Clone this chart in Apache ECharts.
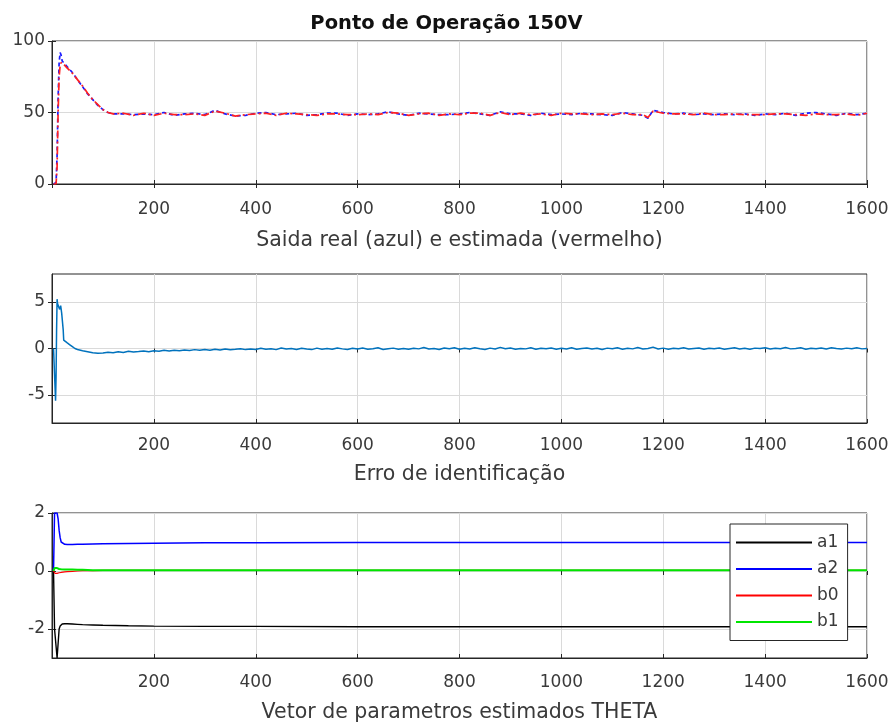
<!DOCTYPE html>
<html><head><meta charset="utf-8">
<script src="https://cdn.jsdelivr.net/npm/echarts@6/dist/echarts.min.js"></script>
<style>html,body{margin:0;padding:0;background:#fff}#c{width:893px;height:724px}</style>
</head><body><div id="c"></div>
<script>
// ---- Plot 1: real (blue) and estimated (red) output ----
const xOut = [3,5,8,10,12,14,16,18,20,25,30,40,50,60,70,80,90,100,110,120,
  140,160,180,200,220,240,260,280,300,320,340,360,380,400,420,440,460,480,500,520,540,560,580,600,620,640,660,680,700,720,740,760,780,800,820,840,860,880,900,920,940,960,980,1000,1020,1040,1060,1080,1100,1120,1140,1160,
  1170,1180,
  1200,1220,1240,1260,1280,1300,1320,1340,1360,1380,1400,1420,1440,1460,1480,1500,1520,1540,1560,1580,1600];
const realOut = [0,0,1,20,60,85,92,90,86,84,82,78,73,68,63,59,55,52,50,49,
  49,48.5,49,48.5,50,48,49,49.5,48.5,51.5,49,47.5,48,49.5,50,48.5,49,49.5,48,48.5,49.5,49.5,48,49,48.5,49,50.5,49,48,49.5,49,48.5,48.5,49,50,49,48,50.5,49,49,48,49.5,48.5,49,48.5,49.5,49,48.5,48,50,49,48,
  46,51.5,
  50,49,49.5,48.5,49,48.5,49,48.5,49,48,49,48.5,49.5,48,49.5,50,49,48,49.5,48.5,49.5];
const estOut = [0,0,0,12,50,75,83,85,85,83,81,77.5,73,68.5,63.5,59,55.5,52,50,49,
  49.5,48,49.5,48,49.5,48.5,48.5,49,48,51,49.5,47.5,48.5,49,49.5,48,49.5,49,48.5,48,49,49,48.5,48.5,49,48.5,50,49.5,48,49,49.5,48,49,48.5,49.5,49.5,48,50,48.5,49.5,48.5,49,48,49.5,49,49,48.5,49,48.5,49.5,48.5,48.5,
  46.5,51,
  49.5,49,49,48.5,49.5,48.5,48.5,49,48.5,48.5,48.5,49,49,48.5,48,49,48.5,48.5,49,48,49.5];

// ---- Plot 2: identification error ----
const xErrEarly = [3,5,7,8,9,10,11,13,15,17,19,21,22,23,25,30,35,40,45,50,60,70,80,90];
const errEarly = [0,0.2,-5.6,-3,2,5.3,4.8,5.0,4.2,4.6,3.8,4.0,2.0,0.9,0.8,0.6,0.4,0.2,0.0,-0.1,-0.25,-0.35,-0.45,-0.5];
const errStart = 100, errStep = 10; // sample spacing of the values below
const errLate = [
  -0.48,-0.40,-0.46,-0.35,-0.42,-0.30,-0.38,-0.33,-0.27,-0.35,
  -0.25,-0.30,-0.20,-0.28,-0.18,-0.24,-0.15,-0.22,-0.12,-0.20,
  -0.10,-0.18,-0.08,-0.15,-0.05,-0.14,-0.09,-0.02,-0.12,-0.06,
  -0.10,0.02,-0.08,-0.03,-0.12,0.05,-0.06,-0.01,-0.10,0.03,
  -0.05,-0.12,0.04,-0.07,0.00,-0.09,0.06,-0.04,-0.11,0.02,
  -0.06,0.05,-0.08,-0.02,0.08,-0.10,-0.03,0.04,-0.07,0.01,
  -0.09,0.03,-0.04,0.10,-0.06,-0.01,-0.11,0.05,-0.03,0.07,
  -0.08,0.02,-0.05,0.09,-0.02,-0.10,0.04,-0.06,0.12,-0.03,
  0.05,-0.08,0.01,-0.04,0.08,-0.09,0.03,-0.02,0.06,-0.07,
  0.02,-0.05,0.09,-0.08,0.00,0.05,-0.06,0.03,-0.10,0.04,
  -0.03,0.07,-0.07,0.02,-0.04,0.10,-0.05,0.01,0.15,-0.06,
  0.04,-0.08,0.02,-0.03,0.08,-0.06,0.00,0.05,-0.09,0.03,
  -0.02,0.06,-0.07,0.01,0.09,-0.05,0.02,-0.08,0.04,-0.01,
  0.07,-0.06,0.03,-0.03,0.10,-0.04,0.01,0.08,-0.07,0.02,
  -0.03,0.06,-0.05,0.09,0.00,-0.06,0.04,-0.02,0.07,-0.04,
  0.01];

// ---- Plot 3: estimated parameter vector THETA ----
const xTheta = [3,4,5,6,8,10,12,14,16,18,20,25,30,40,50,60,80,100,150,200,300,400,600,800,1000,1200,1400,1600];
const a1 = [0,-1,-2,-2,-2,-3,-2.5,-2,-1.9,-1.85,-1.83,-1.82,-1.82,-1.83,-1.84,-1.85,-1.86,-1.87,-1.89,-1.9,-1.91,-1.91,-1.92,-1.92,-1.92,-1.92,-1.92,-1.92];
const a2 = [0,1,2,2,2,2,1.8,1.4,1.15,1.0,0.95,0.92,0.91,0.91,0.92,0.92,0.93,0.94,0.95,0.96,0.97,0.97,0.98,0.98,0.98,0.98,0.98,0.98];
const b0 = [0,0,-0.05,-0.08,-0.1,-0.08,-0.07,-0.06,-0.05,-0.05,-0.04,-0.03,-0.02,-0.01,0,0.01,0.01,0.02,0.02,0.02,0.02,0.02,0.02,0.02,0.02,0.02,0.02,0.02];
const b1 = [0,0.05,0.1,0.12,0.12,0.1,0.08,0.07,0.07,0.06,0.06,0.05,0.05,0.05,0.04,0.04,0.03,0.03,0.03,0.03,0.03,0.03,0.03,0.03,0.03,0.03,0.03,0.03];
const thetaNames = ['a1','a2','b0','b1'];

// tick labels
const xTicks = [200,400,600,800,1000,1200,1400,1600];
const yTicks1 = [0,50,100];
const yTicks2 = [-5,0,5];
const yTicks3 = [-2,0,2];
const titles = ['Saida real (azul) e estimada (vermelho)','Erro de identificação','Vetor de parametros estimados THETA'];

const zip = (xs, ys) => xs.map((x, i) => [x, ys[i]]);
const xErr = xErrEarly.concat(errLate.map((_, i) => errStart + i * errStep));
const errAll = errEarly.concat(errLate);

const FONT = '"DejaVu Sans", Verdana, sans-serif';
const TXT = '#3a3a3a';
const AX = '#262626';
const GRIDC = '#dadada';

const grids = [
  {left: 52, right: 26, top: 41, height: 143},
  {left: 52, right: 26, top: 274, height: 149},
  {left: 52, right: 26, top: 513, height: 146}
].map(g => Object.assign(g, {show: true, borderColor: AX, borderWidth: 1, backgroundColor: '#fff'}));

const labelMargins = [17, 14, 16];
const nameGaps = [46, 41, 44];

const xAxes = [], yAxes = [];
const yDefs = [
  {min: 0, max: 100, ticks: yTicks1},
  {min: -8, max: 8, ticks: yTicks2},
  {min: -3, max: 2, ticks: yTicks3}
];
for (let g = 0; g < 3; g++) {
  xAxes.push({
    type: 'value', gridIndex: g, position: 'bottom', min: 0, max: 1600, interval: 200,
    axisLine: {show: true, onZero: false, lineStyle: {color: AX}},
    axisTick: {show: true, inside: true, length: 4, lineStyle: {color: AX}},
    axisLabel: {show: true, margin: labelMargins[g], fontSize: 17, color: TXT, fontFamily: FONT,
      formatter: v => (xTicks.indexOf(v) >= 0 ? String(v) : '')},
    splitLine: {show: true, lineStyle: {color: GRIDC, width: 1}},
    name: titles[g], nameLocation: 'middle', nameGap: nameGaps[g],
    nameTextStyle: {fontSize: 20.5, color: TXT, fontFamily: FONT}
  });
  xAxes.push({
    type: 'value', gridIndex: g, position: 'top', min: 0, max: 1600, interval: 200,
    axisLine: {show: false}, axisLabel: {show: false}, splitLine: {show: false},
    axisTick: {show: true, inside: true, length: 4, lineStyle: {color: AX}}
  });
  const yd = yDefs[g];
  yAxes.push({
    type: 'value', gridIndex: g, position: 'left', min: yd.min, max: yd.max,
    axisLine: {show: true, onZero: false, lineStyle: {color: AX}},
    axisTick: {show: true, inside: true, length: 4, customValues: yd.ticks, lineStyle: {color: AX}},
    axisLabel: {show: true, margin: 7, fontSize: 17, color: TXT, fontFamily: FONT, customValues: yd.ticks},
    splitLine: {show: true, lineStyle: {color: GRIDC, width: 1}}
  });
  yAxes.push({
    type: 'value', gridIndex: g, position: 'right', min: yd.min, max: yd.max,
    axisLine: {show: false}, axisLabel: {show: false}, splitLine: {show: false},
    axisTick: {show: true, inside: true, length: 4, customValues: yd.ticks, lineStyle: {color: AX}}
  });
}

const line = (name, xi, yi, data, color, width, type, z) => ({
  name, type: 'line', xAxisIndex: xi, yAxisIndex: yi, data, symbol: 'none', showSymbol: false,
  lineStyle: {color, width, type}, itemStyle: {color}, z: z || 2, clip: true
});

const series = [
  line('real', 0, 0, zip(xOut, realOut), '#1a1aff', 1.7, [4, 3], 2),
  line('estimada', 0, 0, zip(xOut, estOut), '#ff2020', 1.7, [8, 3, 2, 3], 3),
  line('erro', 2, 2, zip(xErr, errAll), '#0072BD', 1.5, 'solid', 2),
  line('a1', 4, 4, zip(xTheta, a1), '#000000', 1.4, 'solid', 2),
  line('a2', 4, 4, zip(xTheta, a2), '#0000ff', 1.5, 'solid', 2),
  line('b0', 4, 4, zip(xTheta, b0), '#ff0000', 1.2, 'solid', 2),
  line('b1', 4, 4, zip(xTheta, b1), '#00e600', 2, 'solid', 3)
];

const chart = echarts.init(document.getElementById('c'), null, {renderer: 'canvas'});
chart.setOption({
  animation: false,
  backgroundColor: '#fff',
  title: {text: 'Ponto de Operação 150V', left: 'center', top: 9,
    textStyle: {fontSize: 19.5, fontWeight: 'bold', color: '#111', fontFamily: FONT}},
  grid: grids,
  xAxis: xAxes,
  yAxis: yAxes,
  legend: {
    data: thetaNames, orient: 'vertical', left: 730, top: 524,
    backgroundColor: '#fff', borderColor: AX, borderWidth: 1,
    padding: [10, 9, 10, 6], itemWidth: 76, itemHeight: 2, itemGap: 9.5,
    icon: 'rect',
    textStyle: {fontSize: 17, color: TXT, fontFamily: FONT},
    selectedMode: false
  },
  series
});
</script></body></html>
